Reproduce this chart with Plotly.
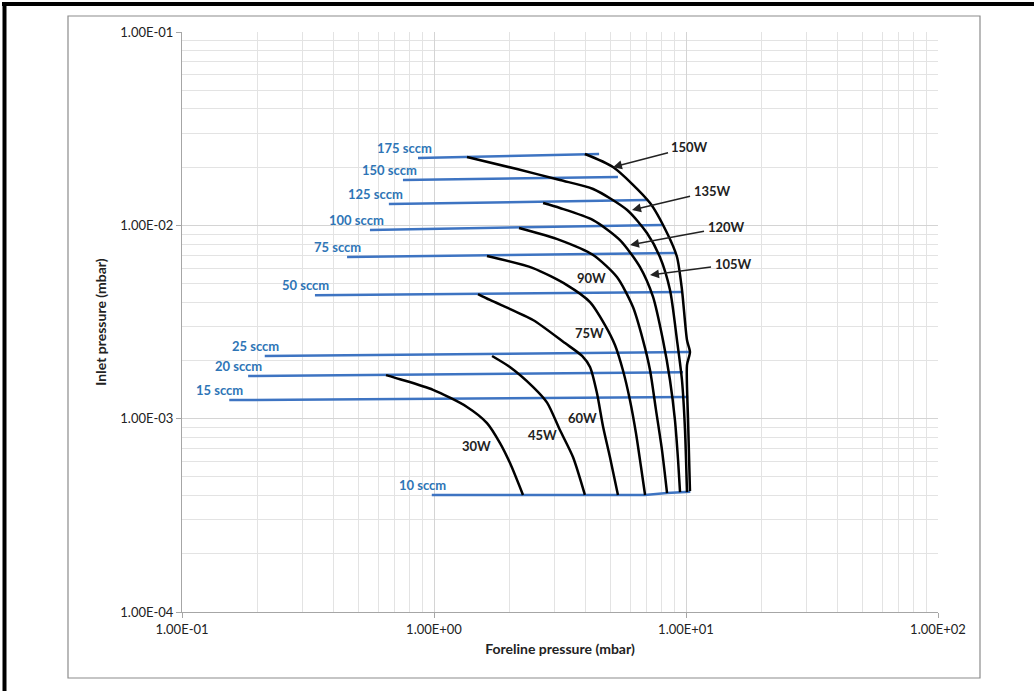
import math
import plotly.graph_objects as go

# ---------------- data ----------------
flow_labels = ["175 sccm", "150 sccm", "125 sccm", "100 sccm", "75 sccm",
               "50 sccm", "25 sccm", "20 sccm", "15 sccm", "10 sccm"]
flow_x = [
    [0.864, 4.52],
    [0.753, 5.37],
    [0.662, 7.0],
    [0.557, 8.03],
    [0.452, 9.04],
    [0.337, 9.73],
    [0.213, 10.4],
    [0.183, 9.73],
    [0.154, 10.2],
    [0.98, 6.88, 8.4, 10.4],
]
flow_y = [
    [0.0223, 0.0234],
    [0.01714, 0.01778],
    [0.01288, 0.01352],
    [0.00946, 0.01005],
    [0.00686, 0.00719],
    [0.00435, 0.00452],
    [0.00211, 0.00221],
    [0.00166, 0.00174],
    [0.001248, 0.001294],
    [0.000403, 0.000403, 0.000413, 0.000419],
]

curve_names = ["30W", "45W", "60W", "75W", "90W", "105W", "135W", "150W"]
curve_x = [
    [0.645, 0.733, 0.991, 1.352, 1.623, 1.828, 2.003, 2.255],
    [1.70, 2.00, 2.47, 2.81, 3.16, 3.56, 3.97],
    [1.495, 1.668, 2.47, 3.31, 3.87, 4.16, 4.43, 4.69, 4.99, 5.37],
    [1.623, 2.47, 3.37, 4.16, 4.77, 5.23, 5.62, 5.99, 6.33, 6.63, 6.88],
    [2.175, 3.16, 4.28, 5.32, 6.16, 6.75, 7.20, 7.60, 8.03, 8.41],
    [2.71, 3.16, 4.28, 5.47, 6.57, 7.40, 8.10, 8.64, 9.04, 9.30, 9.47],
    [1.352, 2.135, 3.16, 4.28, 5.84, 7.00, 7.88, 8.64, 9.21, 9.64, 9.91, 10.09],
    [3.97, 5.13, 7.20, 8.41, 9.21, 9.64, 10.09, 10.37, 10.09, 10.19, 10.37],
]
curve_y = [
    [0.00168, 0.00160, 0.00141, 0.00115, 0.000949, 0.000748, 0.000589, 0.000403],
    [0.00211, 0.00185, 0.00146, 0.00121, 0.000873, 0.000633, 0.000403],
    [0.00441, 0.00411, 0.00324, 0.00246, 0.00211, 0.00185, 0.00136, 0.000905, 0.000633, 0.000403],
    [0.00694, 0.00601, 0.00491, 0.00401, 0.00305, 0.00240, 0.00178, 0.00125, 0.000843, 0.000562, 0.000403],
    [0.00968, 0.00839, 0.00702, 0.00540, 0.00378, 0.00255, 0.00178, 0.00111, 0.000688, 0.000412],
    [0.01304, 0.01229, 0.01065, 0.00839, 0.00608, 0.00426, 0.00255, 0.00158, 0.000983, 0.000611, 0.000417],
    [0.02256, 0.01955, 0.01715, 0.01541, 0.01200, 0.00912, 0.00686, 0.00463, 0.00255, 0.00158, 0.000873, 0.000417],
    [0.02339, 0.02001, 0.01304, 0.00912, 0.00686, 0.00463, 0.00255, 0.00221, 0.00189, 0.000983, 0.000422],
]

# plain power labels (text, x, y)
power_text = ["90W", "75W", "60W", "45W", "30W"]
power_text_x = [4.236, 4.159, 3.90, 2.683, 1.468]
power_text_y = [0.00534, 0.002773, 0.001007, 0.000823, 0.000721]

# arrowed power labels (text, tip x, tip y)
arrow_text = ["150W", "135W", "120W", "105W"]
arrow_tip_x = [5.13, 6.106, 5.995, 7.197]
arrow_tip_y = [0.0200, 0.0120, 0.00791, 0.00553]

x_tickvals = [0.1, 1, 10, 100]
x_ticktext = ["1.00E-01", "1.00E+00", "1.00E+01", "1.00E+02"]
y_tickvals = [0.0001, 0.001, 0.01, 0.1]
y_ticktext = ["1.00E-04", "1.00E-03", "1.00E-02", "1.00E-01"]

x_minor = [m * 10 ** e for e in (-1, 0, 1) for m in range(2, 10)]
y_minor = [m * 10 ** e for e in (-4, -3, -2) for m in range(2, 10)]

# ---------------- styles ----------------
BLUE_LINE = "#3E74C2"
BLUE_TEXT = "#2E75B6"
FONT = "Lato"

fig = go.Figure()

for name, xs, ys in zip(flow_labels, flow_x, flow_y):
    fig.add_trace(go.Scatter(x=xs, y=ys, mode="lines", name=name,
                             line=dict(color=BLUE_LINE, width=2.5),
                             showlegend=False))

for name, xs, ys in zip(curve_names, curve_x, curve_y):
    fig.add_trace(go.Scatter(x=xs, y=ys, mode="lines", name=name,
                             line=dict(color="black", width=2.5,
                                       shape="spline", smoothing=0.7),
                             showlegend=False))

annotations = []
for name, xs, ys in zip(flow_labels, flow_x, flow_y):
    annotations.append(dict(
        x=math.log10(xs[0]), y=math.log10(ys[0]), xref="x", yref="y",
        text=f"<b>{name}</b>", showarrow=False, xanchor="right",
        yanchor="middle", xshift=16, yshift=10,
        font=dict(family=FONT, size=13, color=BLUE_TEXT)))

for t, x, y in zip(power_text, power_text_x, power_text_y):
    annotations.append(dict(
        x=math.log10(x), y=math.log10(y), xref="x", yref="y",
        text=f"<b>{t}</b>", showarrow=False,
        font=dict(family=FONT, size=13, color="#222222")))

arrow_offsets = [(77, -20), (80, -19), (96, -18), (83, -11)]
for t, x, y, (ax, ay) in zip(arrow_text, arrow_tip_x, arrow_tip_y, arrow_offsets):
    annotations.append(dict(
        x=math.log10(x), y=math.log10(y), xref="x", yref="y",
        text=f"<b>{t}</b>", showarrow=True, ax=ax, ay=ay,
        arrowhead=2, arrowsize=1.2, arrowwidth=1.5, arrowcolor="#222222",
        standoff=0, startstandoff=2,
        font=dict(family=FONT, size=13, color="#222222")))

# frame shapes (paper coordinates); plot area = px 182..938 x 32..612
def px(xp):
    return (xp - 182) / 756.0

def py(yp):
    return (612 - yp) / 580.0

shapes = [
    dict(type="rect", xref="paper", yref="paper",
         x0=px(68), x1=px(980), y0=py(678), y1=py(16),
         line=dict(color="#8C8C8C", width=1.2), layer="below"),
    dict(type="line", xref="paper", yref="paper",
         x0=px(2), x1=px(1034), y0=py(4), y1=py(4),
         line=dict(color="black", width=4)),
    dict(type="line", xref="paper", yref="paper",
         x0=px(4.5), x1=px(4.5), y0=py(2), y1=py(691),
         line=dict(color="black", width=4)),
]

grid_major = "#D4D4D4"
grid_minor = "#E3E3E3"

fig.update_layout(
    width=1034, height=691,
    margin=dict(l=182, r=96, t=32, b=79),
    paper_bgcolor="white", plot_bgcolor="white",
    font=dict(family=FONT, size=13, color="#222222"),
    annotations=annotations, shapes=shapes,
    xaxis=dict(
        type="log", range=[-1, 2],
        tickmode="array", tickvals=x_tickvals, ticktext=x_ticktext,
        showgrid=True, gridcolor=grid_major, gridwidth=1,
        minor=dict(tickmode="array", tickvals=x_minor, showgrid=True,
                   gridcolor=grid_minor, gridwidth=1, ticks=""),
        showline=True, linecolor="#A6A6A6", linewidth=1,
        ticks="outside", ticklen=5, tickcolor="#A6A6A6",
        tickfont=dict(family=FONT, size=13, color="#222222"),
        title=dict(text="<b>Foreline pressure (mbar)</b>", standoff=8,
                   font=dict(family=FONT, size=14, color="#222222")),
        zeroline=False,
    ),
    yaxis=dict(
        type="log", range=[-4, -1],
        tickmode="array", tickvals=y_tickvals, ticktext=y_ticktext,
        showgrid=True, gridcolor=grid_major, gridwidth=1,
        minor=dict(tickmode="array", tickvals=y_minor, showgrid=True,
                   gridcolor=grid_minor, gridwidth=1, ticks=""),
        showline=True, linecolor="#A6A6A6", linewidth=1,
        ticks="outside", ticklen=5, tickcolor="#A6A6A6",
        tickfont=dict(family=FONT, size=13, color="#222222"),
        title=dict(text="<b>Inlet pressure (mbar)</b>", standoff=10,
                   font=dict(family=FONT, size=14, color="#222222")),
        zeroline=False,
    ),
)

fig.write_html(
    "out.html",
    config={"displayModeBar": False},
    post_script="document.body.style.margin='0';document.body.style.overflow='hidden';",
)
